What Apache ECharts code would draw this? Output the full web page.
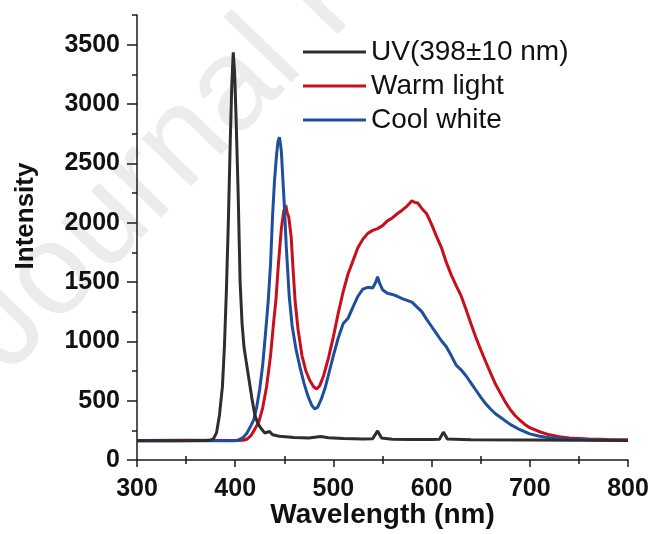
<!DOCTYPE html>
<html>
<head>
<meta charset="utf-8">
<title>Emission spectra</title>
<script src="https://cdn.jsdelivr.net/npm/echarts@6/dist/echarts.min.js"></script>
<style>
  html, body { margin: 0; padding: 0; background: #fff; }
  #chart { width: 651px; height: 534px; }
</style>
</head>
<body>
<div id="chart"></div>
<script>
// legend names
const seriesNames = ['UV(398\u00b110 nm)', 'Warm light', 'Cool white']

// UV LED spectrum
const uvX = [300, 320, 340, 360, 370, 375, 378, 381, 384, 387, 389, 391, 393, 395, 396.5, 398, 399.5, 401, 403, 405, 407, 409, 411, 414, 417, 420, 423, 426, 430, 435, 438, 445, 460, 475, 487, 495, 510, 530, 540, 545, 549, 560, 580, 600, 608, 612, 616, 640, 700, 750, 800]
const uvY = [162, 163, 162, 164, 165, 168, 180, 230, 380, 620, 950, 1420, 2000, 2700, 3150, 3435, 3250, 2850, 2250, 1500, 1150, 950, 840, 680, 520, 380, 310, 270, 228, 240, 212, 200, 190, 185, 198, 188, 182, 178, 180, 245, 185, 175, 172, 172, 175, 235, 178, 170, 168, 166, 165]

// warm light spectrum
const warmX = [300, 350, 400, 408, 412, 416, 420, 424, 428, 432, 436, 439, 441.5, 444, 447, 449.5, 451.5, 453, 454.5, 457, 459, 461, 464, 468, 472, 476, 480, 483, 486, 490, 495, 500, 505, 510, 515, 520, 525, 530, 535, 540, 545, 550, 555, 560, 565, 570, 575, 580, 583, 586, 590, 595, 600, 605, 610, 615, 620, 625, 630, 635, 640, 645, 650, 655, 660, 665, 670, 675, 680, 685, 690, 695, 700, 710, 720, 730, 740, 760, 780, 800]
const warmY = [165, 166, 165, 166, 175, 205, 260, 320, 440, 620, 880, 1150, 1350, 1650, 1950, 2100, 2146, 2080, 2050, 1880, 1600, 1340, 1100, 880, 750, 670, 615, 598, 625, 710, 860, 1040, 1240, 1420, 1570, 1680, 1790, 1860, 1910, 1935, 1950, 1975, 2015, 2040, 2075, 2105, 2140, 2185, 2170, 2165, 2120, 2075, 1985, 1885, 1790, 1665, 1560, 1470, 1385, 1270, 1150, 1035, 930, 830, 735, 640, 565, 490, 425, 375, 335, 300, 272, 238, 212, 196, 186, 177, 172, 170]

// cool white spectrum
const coolX = [300, 350, 400, 403, 408, 412, 416, 419, 422, 425, 428, 431, 433.7, 436, 438, 440, 442, 443.5, 445, 446, 447, 450, 452, 455, 458, 462, 466, 470, 474, 478, 481, 484, 488, 492, 496, 500, 505, 510, 515, 520, 525, 530, 535, 540, 543, 545, 547, 550, 555, 560, 565, 570, 575, 580, 585, 590, 595, 600, 605, 610, 612, 615, 620, 625, 630, 635, 640, 645, 650, 655, 660, 665, 670, 680, 690, 700, 710, 720, 740, 760, 800]
const coolY = [162, 162, 163, 168, 188, 228, 290, 340, 450, 600, 800, 1080, 1350, 1650, 2050, 2350, 2560, 2680, 2720, 2670, 2600, 2150, 1800, 1380, 1130, 930, 780, 650, 540, 460, 430, 445, 520, 620, 750, 880, 1030, 1150, 1195, 1290, 1380, 1440, 1455, 1450, 1495, 1545, 1490, 1435, 1405, 1395, 1380, 1360, 1345, 1330, 1290, 1250, 1185, 1125, 1065, 1005, 1010, 955, 880, 800, 760, 710, 650, 590, 530, 475, 430, 390, 360, 300, 255, 220, 200, 188, 176, 170, 165]

// axis ticks
const xMajor = [300, 400, 500, 600, 700, 800]
const xMinor = [350, 450, 550, 650, 750]
const yMajor = [0, 500, 1000, 1500, 2000, 2500, 3000, 3500]
const yMinor = [250, 750, 1250, 1750, 2250, 2750, 3250, 3750]

const colors = ['#2e2e2e', '#c8101c', '#1d4f9c']
const font = 'Liberation Sans, Arial, Helvetica, sans-serif'

function pairs(xs, ys) {
  return xs.map((x, i) => [x, ys[i]])
}

const chart = echarts.init(document.getElementById('chart'), null, { renderer: 'canvas' })

const axisLine = { show: true, lineStyle: { color: '#1a1a1a', width: 1.5 } }
const tickStyle = { color: '#1a1a1a', width: 1.5 }
const plain = v => String(v)

// extra axes that only carry minor ticks
function minorX(inside) {
  return {
    type: 'value',
    position: 'bottom',
    min: 300,
    max: 800,
    interval: 100,
    axisLine: { show: false },
    axisTick: { show: true, inside: inside, length: 4, lineStyle: tickStyle, customValues: xMinor },
    axisLabel: { show: false },
    splitLine: { show: false }
  }
}

const option = {
  backgroundColor: '#fff',
  animation: false,
  color: colors,
  grid: {
    left: 137,
    right: 23,
    top: 15,
    bottom: 74,
    outerBoundsMode: 'none'
  },
  legend: {
    data: seriesNames,
    orient: 'vertical',
    left: 303,
    top: 38,
    padding: 0,
    itemGap: 6,
    itemWidth: 63,
    itemHeight: 3,
    icon: 'rect',
    textStyle: { fontFamily: font, fontSize: 28, color: '#111' }
  },
  xAxis: [
    {
      type: 'value',
      min: 300,
      max: 800,
      interval: 100,
      name: 'Wavelength (nm)',
      nameLocation: 'middle',
      nameGap: 41,
      nameMoveOverlap: false,
      nameTextStyle: { fontFamily: font, fontSize: 28, fontWeight: 'bold', color: '#111' },
      axisLine: axisLine,
      axisTick: { show: true, inside: false, length: 7, lineStyle: tickStyle, customValues: xMajor },
      axisLabel: { margin: 17, fontFamily: font, fontSize: 25, fontWeight: 'bold', color: '#111', customValues: xMajor, formatter: plain },
      splitLine: { show: false }
    },
    minorX(true),
    minorX(false)
  ],
  yAxis: [
    {
      type: 'value',
      min: 0,
      max: 3750,
      interval: 500,
      axisLine: axisLine,
      axisTick: { show: true, inside: false, length: 10, lineStyle: tickStyle, customValues: yMajor },
      axisLabel: { margin: 17, fontFamily: font, fontSize: 25, fontWeight: 'bold', color: '#111', customValues: yMajor, formatter: plain },
      splitLine: { show: false }
    },
    {
      type: 'value',
      position: 'left',
      min: 0,
      max: 3750,
      interval: 250,
      axisLine: { show: false },
      axisTick: { show: true, inside: false, length: 5, lineStyle: tickStyle, customValues: yMinor },
      axisLabel: { show: false },
      splitLine: { show: false }
    }
  ],
  graphic: [
    {
      type: 'text',
      z: -10,
      x: 30,
      y: 395,
      rotation: 46 * Math.PI / 180,
      silent: true,
      style: {
        text: 'Journal Pre-proof',
        font: '130px ' + font,
        fill: '#ececec',
        align: 'left',
        verticalAlign: 'bottom'
      }
    },
    {
      type: 'text',
      x: 26,
      y: 216,
      rotation: Math.PI / 2,
      style: {
        text: 'Intensity',
        font: 'bold 26px ' + font,
        fill: '#111',
        align: 'center',
        verticalAlign: 'middle'
      }
    }
  ],
  series: [
    {
      name: seriesNames[0],
      type: 'line',
      data: pairs(uvX, uvY),
      showSymbol: false,
      lineStyle: { width: 3, color: colors[0] },
      z: 4
    },
    {
      name: seriesNames[1],
      type: 'line',
      data: pairs(warmX, warmY),
      showSymbol: false,
      lineStyle: { width: 3, color: colors[1] },
      z: 2
    },
    {
      name: seriesNames[2],
      type: 'line',
      data: pairs(coolX, coolY),
      showSymbol: false,
      lineStyle: { width: 3, color: colors[2] },
      z: 3
    }
  ]
}

chart.setOption(option)
</script>
</body>
</html>
